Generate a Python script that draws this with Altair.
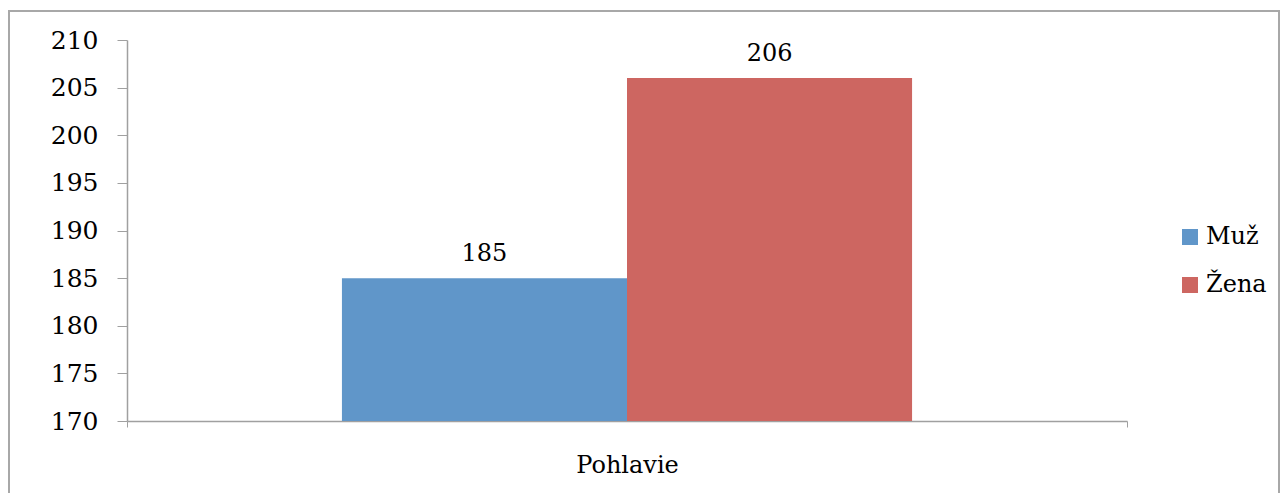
import altair as alt
import pandas as pd

groups = ["Pohlavie", "Pohlavie"]
series = ["Muž", "Žena"]
values = [185, 206]
colors = ["#6096C9", "#CD6661"]
y_ticks = [170, 175, 180, 185, 190, 195, 200, 205, 210]

df = pd.DataFrame({"group": groups, "series": series, "value": values})

FONT = "DejaVu Serif"
AXIS_COLOR = "#A0A0A0"

base = alt.Chart(df).encode(
    x=alt.X(
        "group:N",
        title=None,
        scale=alt.Scale(paddingInner=0, paddingOuter=0),
        axis=alt.Axis(
            labelAngle=0,
            tickBand="extent",
            tickSize=6,
            tickColor=AXIS_COLOR,
            domainColor=AXIS_COLOR,
            domainWidth=1.5,
            labelFont=FONT,
            labelFontSize=24,
            labelColor="#000000",
            labelPadding=26,
        ),
    ),
    xOffset=alt.XOffset(
        "series:N", scale=alt.Scale(paddingInner=0, paddingOuter=0.754)
    ),
)

bars = base.mark_bar(clip=True).encode(
    y=alt.Y(
        "value:Q",
        title=None,
        scale=alt.Scale(domain=[170, 210], zero=False, nice=False),
        axis=alt.Axis(
            values=y_ticks,
            grid=False,
            tickSize=10,
            tickColor=AXIS_COLOR,
            domainColor=AXIS_COLOR,
            domainWidth=1.5,
            labelFont=FONT,
            labelFontSize=25,
            labelColor="#000000",
            labelPadding=19,
        ),
    ),
    color=alt.Color(
        "series:N",
        scale=alt.Scale(domain=series, range=colors),
        legend=alt.Legend(
            title=None,
            orient="none",
            legendX=1051,
            legendY=185,
            symbolType="square",
            symbolSize=256,
            symbolStrokeWidth=0,
            labelFont=FONT,
            labelFontSize=24,
            labelColor="#000000",
            rowPadding=24,
            labelOffset=4,
        ),
    ),
)

labels = base.mark_text(
    baseline="bottom", dy=-12, font=FONT, fontSize=24, color="#000000"
).encode(y=alt.Y("value:Q"), text=alt.Text("value:Q"))

frame = alt.Chart(pd.DataFrame({"k": [0]})).mark_rect(
    filled=False, stroke="#A8A8A8", strokeWidth=2
).encode(
    x=alt.value(-118), x2=alt.value(1152), y=alt.value(-29), y2=alt.value(480)
)

chart = (
    alt.layer(frame, bars, labels)
    .properties(
        width=1000,
        height=381,
        padding={"left": 119, "top": 32, "right": 153, "bottom": 72},
        autosize=alt.AutoSizeParams(type="none"),
    )
    .configure_view(stroke=None)
)

chart.save("out.html", embed_options={"renderer": "svg", "actions": False})
